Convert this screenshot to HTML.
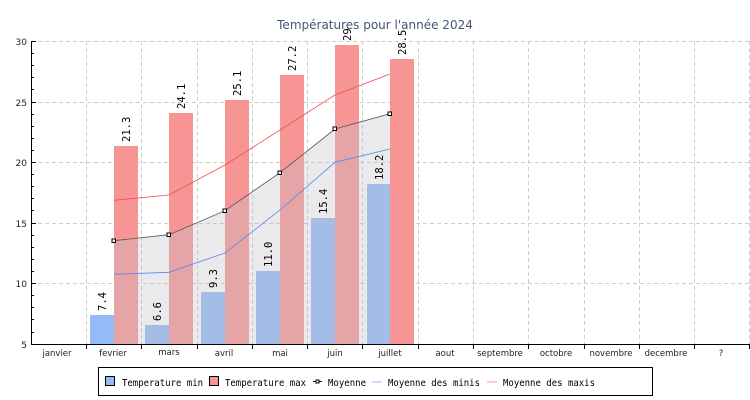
<!DOCTYPE html>
<html><head><meta charset="utf-8"><style>body{margin:0;background:#fff}svg{display:block}</style></head><body>
<svg width="750" height="400" xmlns="http://www.w3.org/2000/svg" font-family="DejaVu Sans Mono, Liberation Mono, monospace">
<rect width="750" height="400" fill="#fff"/>
<text x="375" y="29" text-anchor="middle" font-family="DejaVu Sans, Liberation Sans, sans-serif" font-size="12" fill="#445577">Températures pour l'année 2024</text>
<g stroke="#cccccc" stroke-dasharray="4,3" stroke-width="1">
<line x1="31" x2="750" y1="41.5" y2="41.5"/><line x1="31" x2="750" y1="102.5" y2="102.5"/><line x1="31" x2="750" y1="162.5" y2="162.5"/><line x1="31" x2="750" y1="223.5" y2="223.5"/><line x1="31" x2="750" y1="283.5" y2="283.5"/>
<line x1="86.5" x2="86.5" y1="41" y2="344"/><line x1="141.5" x2="141.5" y1="41" y2="344"/><line x1="197.5" x2="197.5" y1="41" y2="344"/><line x1="252.5" x2="252.5" y1="41" y2="344"/><line x1="307.5" x2="307.5" y1="41" y2="344"/><line x1="362.5" x2="362.5" y1="41" y2="344"/><line x1="418.5" x2="418.5" y1="41" y2="344"/><line x1="473.5" x2="473.5" y1="41" y2="344"/><line x1="528.5" x2="528.5" y1="41" y2="344"/><line x1="584.5" x2="584.5" y1="41" y2="344"/><line x1="639.5" x2="639.5" y1="41" y2="344"/><line x1="694.5" x2="694.5" y1="41" y2="344"/><line x1="749.5" x2="749.5" y1="41" y2="344"/>
</g>
<g fill="#94bbf7">
<rect x="90" y="315" width="24" height="29"/><rect x="145" y="325" width="24" height="19"/><rect x="201" y="292" width="24" height="52"/><rect x="256" y="271" width="24" height="73"/><rect x="311" y="218" width="24" height="126"/><rect x="367" y="184" width="24" height="160"/>
</g>
<g fill="#f79494">
<rect x="114" y="146" width="24" height="198"/><rect x="169" y="113" width="24" height="231"/><rect x="225" y="100" width="24" height="244"/><rect x="280" y="75" width="24" height="269"/><rect x="335" y="45" width="24" height="299"/><rect x="390" y="59" width="24" height="285"/>
</g>
<polygon points="114,240.7 169,234.7 225,210.7 280,172.7 335,129 390,113.7 390,344 114,344" fill="rgb(196,196,200)" fill-opacity="0.35"/>
<polyline points="114,200.3 169,195 225,165 280,130 335,95 390,74" fill="none" stroke="#f05050" stroke-width="0.8"/>
<polyline points="114,274.3 169,272.3 225,253 280,210 335,162.3 390,149" fill="none" stroke="#5a8ae8" stroke-width="0.8"/>
<polyline points="114,240.7 169,234.7 225,210.7 280,172.7 335,129 390,113.7" fill="none" stroke="#555" stroke-width="0.8"/>
<g fill="#fff" stroke="#000" stroke-width="1">
<rect x="112" y="239" width="3.5" height="3.5"/><rect x="167" y="233" width="3.5" height="3.5"/><rect x="223" y="209" width="3.5" height="3.5"/><rect x="278" y="171" width="3.5" height="3.5"/><rect x="333" y="127" width="3.5" height="3.5"/><rect x="388" y="112" width="3.5" height="3.5"/>
</g>
<g font-size="10.5" fill="#000">
<text transform="translate(106,311) rotate(-90)">7.4</text>
<text transform="translate(161,321) rotate(-90)">6.6</text>
<text transform="translate(217,288) rotate(-90)">9.3</text>
<text transform="translate(272,267) rotate(-90)">11.0</text>
<text transform="translate(327,214) rotate(-90)">15.4</text>
<text transform="translate(383,180) rotate(-90)">18.2</text>
<text transform="translate(130,142) rotate(-90)">21.3</text>
<text transform="translate(185,109) rotate(-90)">24.1</text>
<text transform="translate(241,96) rotate(-90)">25.1</text>
<text transform="translate(296,71) rotate(-90)">27.2</text>
<text transform="translate(351,41) rotate(-90)">29</text>
<text transform="translate(406,55) rotate(-90)">28.5</text>
</g>
<g stroke="#000" stroke-width="1">
<line x1="31.5" x2="31.5" y1="41" y2="345"/><line x1="31" x2="750" y1="344.5" y2="344.5"/>
<path d="M31 41.5h5M31 102.5h5M31 162.5h5M31 223.5h5M31 283.5h5M31 53.5h3M31 65.5h3M31 77.5h3M31 89.5h3M31 114.5h3M31 126.5h3M31 138.5h3M31 150.5h3M31 174.5h3M31 186.5h3M31 198.5h3M31 210.5h3M31 235.5h3M31 247.5h3M31 259.5h3M31 271.5h3M31 295.5h3M31 307.5h3M31 319.5h3M31 332.5h3"/>
<path d="M86.5 344v5M141.5 344v5M197.5 344v5M252.5 344v5M307.5 344v5M362.5 344v5M418.5 344v5M473.5 344v5M528.5 344v5M584.5 344v5M639.5 344v5M694.5 344v5M749.5 344v5"/>
</g>
<g font-family="DejaVu Sans, Liberation Sans, sans-serif" font-size="9" fill="#222" text-anchor="end">
<text x="27" y="45">30</text><text x="27" y="106">25</text><text x="27" y="166">20</text><text x="27" y="227">15</text><text x="27" y="287">10</text><text x="27" y="348">5</text>
</g>
<g font-family="DejaVu Sans, Liberation Sans, sans-serif" font-size="8.5" fill="#222" text-anchor="middle">
<text x="57" y="356">janvier</text><text x="113" y="356">fevrier</text><text x="169" y="355">mars</text><text x="224" y="356">avril</text><text x="280" y="356">mai</text><text x="335" y="356">juin</text><text x="390" y="356">juillet</text><text x="445" y="356">aout</text><text x="500" y="356">septembre</text><text x="556" y="356">octobre</text><text x="611" y="356">novembre</text><text x="666" y="356">decembre</text><text x="721" y="356">?</text>
</g>
<rect x="98.5" y="367.5" width="554" height="28" fill="#fff" stroke="#000"/>
<rect x="105.5" y="376.5" width="9" height="9" fill="#94bbf7" stroke="#000"/>
<rect x="209.5" y="376.5" width="9" height="9" fill="#f79494" stroke="#000"/>
<line x1="313" x2="322" y1="381.5" y2="381.5" stroke="#000"/><rect x="316" y="380" width="3" height="3" fill="#fff" stroke="#000"/>
<line x1="372" x2="382" y1="382" y2="382" stroke="#94bbf7"/>
<line x1="487" x2="497" y1="382" y2="382" stroke="#f79494"/>
<g font-size="9.5" fill="#000">
<text x="122" y="386" textLength="81" lengthAdjust="spacingAndGlyphs">Temperature min</text>
<text x="225" y="386" textLength="81" lengthAdjust="spacingAndGlyphs">Temperature max</text>
<text x="328" y="386" textLength="38" lengthAdjust="spacingAndGlyphs">Moyenne</text>
<text x="388" y="386" textLength="92" lengthAdjust="spacingAndGlyphs">Moyenne des minis</text>
<text x="503" y="386" textLength="92" lengthAdjust="spacingAndGlyphs">Moyenne des maxis</text>
</g>
</svg>
</body></html>
